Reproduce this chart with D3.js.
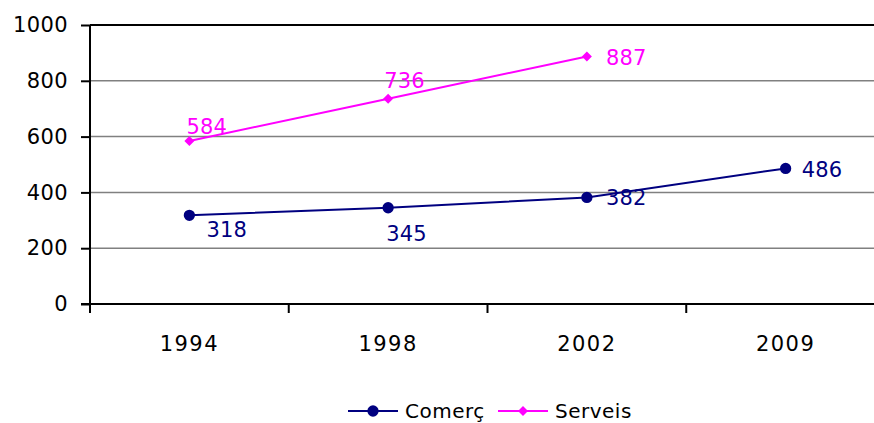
<!DOCTYPE html>
<html>
<head>
<meta charset="utf-8">
<script src="https://cdn.jsdelivr.net/npm/d3@7"></script>
<style>
  body { margin: 0; background: #fff; }
  svg text { font-family: "DejaVu Sans", Verdana, sans-serif; }
</style>
</head>
<body>
<div class="container"></div>
<script>
var years = ['1994', '1998', '2002', '2009'];
var comercValues = [318, 345, 382, 486];
var serveisValues = [584, 736, 887, null];
var yTicks = [0, 200, 400, 600, 800, 1000];
var seriesNames = ['Comerç', 'Serveis'];

let width = 874,
    height = 423,
    margin = { top: 25, right: -11, bottom: 119, left: 90 };

let svg = d3.select('.container')
            .append('svg')
            .attr('width', width)
            .attr('height', height);

let xScale = d3.scaleBand()
               .domain(years)
               .range([margin.left, width - margin.right]);

let yScale = d3.scaleLinear()
               .domain([0, 1000])
               .range([height - margin.bottom, margin.top]);

let cx = d => xScale(d) + xScale.bandwidth() / 2;

// gridlines
svg.append('g')
   .selectAll('line')
   .data(yTicks.filter(t => t > 0))
   .enter()
   .append('line')
   .attr('x1', margin.left)
   .attr('x2', width)
   .attr('y1', d => yScale(d))
   .attr('y2', d => yScale(d))
   .attr('stroke', d => d === 1000 ? '#000' : '#808080')
   .attr('stroke-width', d => d === 1000 ? 2 : 1.5);

let yAxis = d3.axisLeft(yScale)
              .tickValues(yTicks)
              .tickFormat(d3.format('d'))
              .tickSize(9)
              .tickPadding(13);

let gy = svg.append('g')
   .attr('transform', `translate(${margin.left},0)`)
   .call(yAxis);
gy.select('.domain').remove();
gy.selectAll('line').attr('stroke', '#000').attr('stroke-width', 2);
gy.selectAll('text')
  .style('font-size', '21px')
  .style('letter-spacing', '0.4px')
  .attr('fill', '#000');

// axis lines
svg.append('line')
   .attr('x1', margin.left).attr('x2', margin.left)
   .attr('y1', yScale(1000)).attr('y2', yScale(0) + 9)
   .attr('stroke', '#000').attr('stroke-width', 2);
svg.append('line')
   .attr('x1', margin.left - 9).attr('x2', width)
   .attr('y1', yScale(0)).attr('y2', yScale(0))
   .attr('stroke', '#000').attr('stroke-width', 2);

// category ticks
svg.append('g')
   .selectAll('line')
   .data(years)
   .enter()
   .append('line')
   .attr('x1', d => xScale(d)).attr('x2', d => xScale(d))
   .attr('y1', yScale(0)).attr('y2', yScale(0) + 9)
   .attr('stroke', '#000').attr('stroke-width', 2);

svg.append('g')
   .selectAll('text')
   .data(years)
   .enter()
   .append('text')
   .attr('x', d => cx(d))
   .attr('y', yScale(0) + 47)
   .attr('text-anchor', 'middle')
   .style('font-size', '21px')
   .style('letter-spacing', '1.5px')
   .text(d => d);

let colors = ['#000080', '#FF00FF'];
let series = [comercValues, serveisValues].map((vals, i) => ({
  name: seriesNames[i],
  color: colors[i],
  points: years.map((y, j) => ({ year: y, value: vals[j] })).filter(p => p.value != null)
}));

let line = d3.line().x(d => cx(d.year)).y(d => yScale(d.value));

// marker shapes: circle for Comerç, square turned 45deg for Serveis
let marker = i => i === 0
  ? d3.symbol().type(d3.symbolCircle).size(100)()
  : d3.symbol().type(d3.symbolSquare).size(50)();
let markerRot = i => i === 0 ? '' : ' rotate(45)';

// label offsets relative to the point [dx, dy]
let labelOffsets = [
  [[17, 22], [-2, 33], [19, 8], [16, 9]],
  [[-3, -7], [-4, -11], [19, 8]]
];

series.forEach((s, i) => {
  svg.append('path')
     .datum(s.points)
     .attr('d', line)
     .attr('fill', 'none')
     .attr('stroke', s.color)
     .attr('stroke-width', 2);

  svg.append('g')
     .selectAll('path')
     .data(s.points)
     .enter()
     .append('path')
     .attr('d', marker(i))
     .attr('transform', d => `translate(${cx(d.year)},${yScale(d.value)})${markerRot(i)}`)
     .attr('fill', s.color);

  svg.append('g')
     .selectAll('text')
     .data(s.points)
     .enter()
     .append('text')
     .attr('x', (d, j) => cx(d.year) + labelOffsets[i][j][0])
     .attr('y', (d, j) => yScale(d.value) + labelOffsets[i][j][1])
     .style('font-size', '21px')
     .style('letter-spacing', '0.2px')
     .attr('fill', s.color)
     .text(d => d.value);
});

// legend
let legendX = [348, 498];
let legend = svg.append('g')
   .selectAll('g')
   .data(series)
   .enter()
   .append('g')
   .attr('transform', (d, i) => `translate(${legendX[i]},411)`);

legend.append('line')
   .attr('x1', 0).attr('x2', 50)
   .attr('stroke', d => d.color).attr('stroke-width', 2);
legend.append('path')
   .attr('d', (d, i) => marker(i))
   .attr('transform', (d, i) => 'translate(25,0)' + markerRot(i))
   .attr('fill', d => d.color);
legend.append('text')
   .attr('x', 57)
   .attr('y', 7)
   .style('font-size', '20px')
   .style('letter-spacing', '0.5px')
   .text(d => d.name);
</script>
</body>
</html>
